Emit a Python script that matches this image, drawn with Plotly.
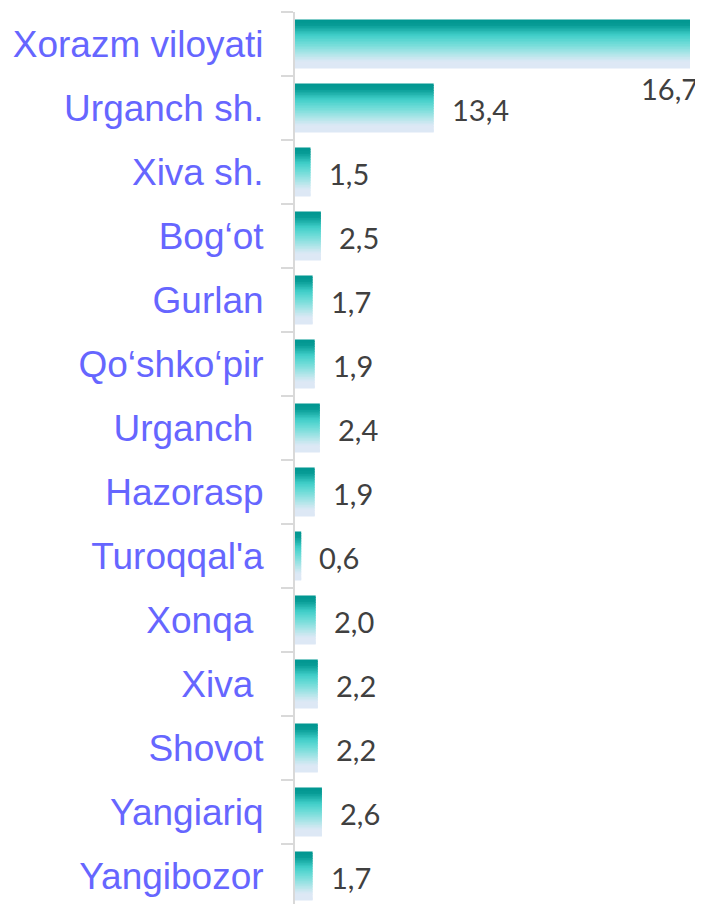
import plotly.graph_objects as go

regions = ["Xorazm viloyati", "Urganch sh.", "Xiva sh.", "Bog‘ot", "Gurlan",
           "Qo‘shko‘pir", "Urganch\u00a0", "Hazorasp", "Turoqqal'a", "Xonqa\u00a0",
           "Xiva\u00a0", "Shovot", "Yangiariq", "Yangibozor"]
values = [16.7, 13.4, 1.5, 2.5, 1.7, 1.9, 2.4, 1.9, 0.6, 2.0, 2.2, 2.2, 2.6, 1.7]

# vertical gradient of the bars, top -> bottom
stops = [(0.0, (0, 150, 144)), (0.12, (8, 156, 150)), (0.32, (64, 206, 200)),
         (0.5, (112, 220, 216)), (0.72, (180, 230, 234)), (0.86, (221, 232, 245)),
         (1.0, (221, 232, 245))]


def grad_color(t):
    for (t0, c0), (t1, c1) in zip(stops, stops[1:]):
        if t <= t1:
            f = (t - t0) / (t1 - t0) if t1 > t0 else 0
            return "rgb(%d,%d,%d)" % tuple(round(a + (b - a) * f) for a, b in zip(c0, c1))
    return "rgb(%d,%d,%d)" % stops[-1][1]


def add_gradient_bars(fig, cats, vals, xaxis, n=30, bar_w=0.766):
    step = bar_w / n
    for i in range(n):
        fig.add_trace(go.Bar(
            y=cats, x=vals, orientation="h", xaxis=xaxis,
            width=step * 1.6 if i < n - 1 else step,
            offset=-bar_w / 2 + i * step,
            marker=dict(color=grad_color((i + 0.5) / n), line_width=0),
            showlegend=False, hoverinfo="skip"))


fig = go.Figure()
add_gradient_bars(fig, regions[:1], values[:1], "x2")
add_gradient_bars(fig, regions[1:], values[1:], "x")

labels = [f"{v:.1f}".replace(".", ",") for v in values]
for i, (cat, v, lab) in enumerate(zip(regions, values, labels)):
    if i == 0:
        fig.add_annotation(x=v, y=cat, xref="x2", yref="y", text=lab, showarrow=False,
                           xanchor="center", xshift=-21, yshift=-44)
    else:
        fig.add_annotation(x=v, y=cat, xref="x", yref="y", text=lab, showarrow=False,
                           xanchor="left", xshift=16, yshift=-1)

fig.update_annotations(font=dict(family="Lato", size=29, color="#404040"))

# page body has an 8px margin, so the figure is sized / offset to compensate
fig.update_layout(
    width=695, height=896,
    margin=dict(l=287, r=0, t=4, b=0),
    barmode="overlay",
    plot_bgcolor="white", paper_bgcolor="white",
    xaxis=dict(range=[0, 408 / 10.35], visible=False),
    xaxis2=dict(range=[0, 16.7 * 408 / 395], overlaying="x", visible=False),
    yaxis=dict(
        type="category", categoryorder="array", categoryarray=regions,
        range=[13.4375, -0.5],
        showline=True, linecolor="#D9D9D9", linewidth=2,
        ticks="outside", tickson="boundaries", ticklen=12, tickcolor="#D9D9D9", tickwidth=2,
        ticklabelstandoff=22, showgrid=False, zeroline=False,
        tickfont=dict(family="Liberation Sans, Arial", size=37, color="#6666FF"),
    ),
)

fig.write_html("out.html")
